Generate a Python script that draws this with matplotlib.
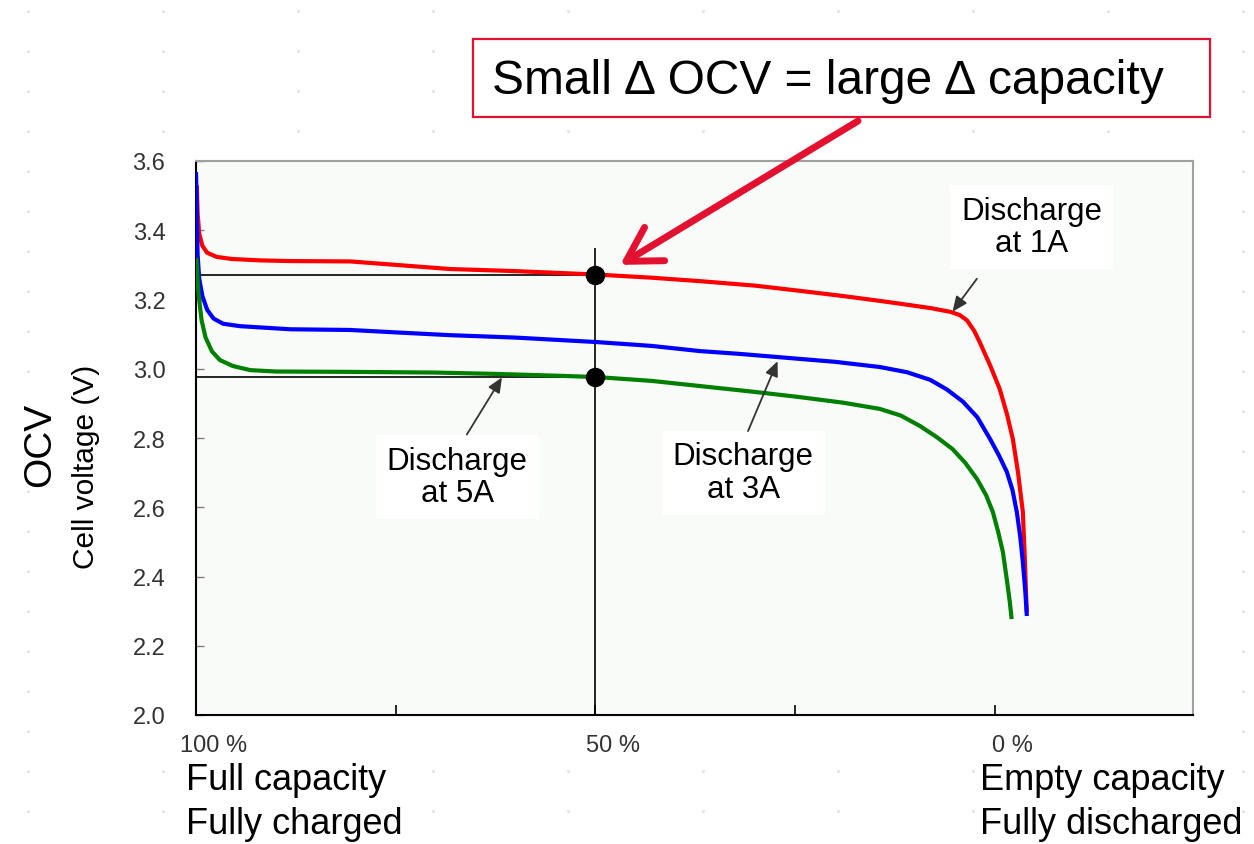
import matplotlib
matplotlib.use("Agg")
import matplotlib.pyplot as plt
from matplotlib.patches import Rectangle
from matplotlib.lines import Line2D
from matplotlib.transforms import ScaledTranslation
import numpy as np

plt.rcParams['font.family'] = ['Liberation Sans', 'DejaVu Sans']

# State of charge (%) and cell voltage (V) for each discharge current
soc_1a = [99.9, 99.8, 99.6, 99.2, 98.6, 97.4, 95.5, 92.0, 88.2, 80.7, 75.0, 68.2,
          60.0, 49.8, 43.0, 36.9, 30.0, 24.4, 19.0, 14.4, 11.9, 8.0, 5.5, 4.4, 3.5,
          2.6, 1.9, 0.6, -0.6, -1.5, -2.25, -2.9, -3.5, -3.75, -3.9, -4.0]
v_1a = [3.530, 3.450, 3.390, 3.355, 3.335, 3.323, 3.317, 3.313, 3.311, 3.310, 3.300,
        3.288, 3.282, 3.272, 3.263, 3.253, 3.240, 3.225, 3.210, 3.196, 3.188, 3.175,
        3.164, 3.155, 3.140, 3.110, 3.077, 3.010, 2.942, 2.870, 2.797, 2.700, 2.586,
        2.450, 2.350, 2.297]

soc_3a = [100.0, 99.9, 99.8, 99.6, 99.2, 98.6, 97.8, 96.6, 94.5, 92.4, 88.2, 80.7,
          75.0, 68.2, 60.0, 49.8, 43.0, 36.9, 32.0, 27.3, 20.0, 14.4, 11.0, 8.1, 6.0,
          4.0, 2.2, 0.6, -0.5, -1.5, -2.2, -2.75, -3.2, -3.5, -3.8, -4.0]
v_3a = [3.568, 3.450, 3.330, 3.260, 3.210, 3.170, 3.145, 3.130, 3.123, 3.120, 3.114,
        3.112, 3.105, 3.097, 3.090, 3.077, 3.066, 3.051, 3.043, 3.034, 3.020, 3.005,
        2.990, 2.968, 2.940, 2.905, 2.860, 2.797, 2.750, 2.702, 2.650, 2.586, 2.510,
        2.442, 2.360, 2.286]

soc_5a = [99.95, 99.7, 99.3, 98.8, 98.0, 97.0, 95.4, 93.2, 90.0, 80.7, 70.0, 62.3,
          55.0, 49.8, 43.0, 36.9, 30.0, 24.4, 19.0, 14.4, 11.8, 9.4, 7.3, 5.3, 3.7,
          2.25, 1.1, 0.25, -0.4, -1.0, -1.5, -1.85, -2.1]
v_5a = [3.320, 3.220, 3.140, 3.090, 3.050, 3.025, 3.008, 2.996, 2.992, 2.991, 2.989,
        2.985, 2.980, 2.976, 2.965, 2.950, 2.933, 2.918, 2.902, 2.884, 2.865, 2.835,
        2.803, 2.768, 2.728, 2.682, 2.635, 2.586, 2.530, 2.471, 2.390, 2.330, 2.277]

# Reference point at half capacity
soc_mid = 50
v_mid_1a = 3.27
v_mid_5a = 2.975

y_ticks = [2.0, 2.2, 2.4, 2.6, 2.8, 3.0, 3.2, 3.4, 3.6]
x_ticks = [100, 75, 50, 25, 0]
x_tick_labels = ["100 %", "", "50 %", "", "0 %"]

W, H = 1254, 845
fig = plt.figure(figsize=(W / 100, H / 100), dpi=100)
fig.patch.set_facecolor('white')


def fpos(px, py):
    return px / W, 1 - py / H


# faint dotted slide background
gx = np.arange(28, W, 135)
gy = np.arange(12, H + 5, 40)
dx, dy = [], []
for x in gx:
    for y in gy:
        if 50 <= x <= 1215 and 138 <= y <= 760:
            continue
        fx, fy = fpos(x, y)
        dx.append(fx)
        dy.append(fy)
fig.add_artist(Line2D(dx, dy, transform=fig.transFigure, ls='none', marker='o',
                      ms=2.2, mfc='#e2e2e2', mec='none', zorder=0))

ax = fig.add_axes([196 / W, 1 - 716 / H, (1193 - 196) / W, (716 - 162) / H])
ax.set_facecolor('#f9fbf9')
ax.set_xlim(100, -24.8)
ax.set_ylim(2.0, 3.6)

# reference lines through the 50 % point
ax.hlines([v_mid_1a, v_mid_5a], 100, soc_mid, color='black', lw=1.2, zorder=2)
ax.vlines(soc_mid, 2.0, 3.35, color='black', lw=1.2, zorder=2)

curve_kw = dict(lw=3, zorder=3, solid_joinstyle='round', solid_capstyle='butt')
ax.plot(soc_1a, v_1a, color='#ff0000', **curve_kw)
ax.plot(soc_3a, v_3a, color='#0000ff', **curve_kw)
ax.plot(soc_5a, v_5a, color='#008000', **curve_kw)

ax.plot([soc_mid, soc_mid], [v_mid_1a, v_mid_5a], ls='none', marker='o', ms=13,
        color='black', zorder=5)

# axes frame
for s in ('left', 'bottom'):
    ax.spines[s].set_color('black')
    ax.spines[s].set_linewidth(1.5)
for s in ('top', 'right'):
    ax.spines[s].set_color('#a0a0a0')
    ax.spines[s].set_linewidth(1.5)

ax.set_yticks(y_ticks)
ax.set_yticklabels([f"{v:.1f}" for v in y_ticks])
ax.set_xticks(x_ticks)
ax.set_xticklabels(x_tick_labels)
ax.tick_params(axis='y', direction='in', length=6, width=1, color='#808080',
               labelsize=17, labelcolor='#333333', pad=22)
ax.tick_params(axis='x', direction='in', length=7, width=1.2, color='black',
               labelsize=17, labelcolor='#333333', pad=14)
for lab in ax.get_xticklabels():
    lab.set_transform(lab.get_transform() + ScaledTranslation(0.18, 0, fig.dpi_scale_trans))

# axis titles
fig.text(*fpos(86, 467), "Cell voltage (V)", rotation=90, ha='center', va='center',
         fontsize=21.5, color='black')
fig.text(*fpos(40, 445), "OCV", rotation=90, ha='center', va='center',
         fontsize=28, color='black')

# capacity captions under the axis
fig.text(*fpos(186, 780), "Full capacity", ha='left', va='center', fontsize=26, color='black')
fig.text(*fpos(186, 825), "Fully charged", ha='left', va='center', fontsize=26, color='black')
fig.text(*fpos(980, 780), "Empty capacity", ha='left', va='center', fontsize=26, color='black')
fig.text(*fpos(980, 825), "Fully discharged", ha='left', va='center', fontsize=26, color='black')

# curve labels with pointer arrows
label_box = dict(boxstyle='square,pad=0.35', fc='white', ec='none')
arrow_kw = dict(arrowstyle='-|>,head_length=0.5,head_width=0.22', color='#333333',
                lw=1.3, shrinkA=0, shrinkB=0, mutation_scale=18)
label_kw = dict(ha='center', va='center', fontsize=22.5, linespacing=1.1,
                bbox=label_box, zorder=6)

ax.text(-4.6, 3.41, "Discharge\nat 1A", **label_kw)
ax.annotate("", xy=(5.3, 3.165), xytext=(2.25, 3.26), arrowprops=arrow_kw, zorder=6)

ax.text(31.5, 2.70, "Discharge\nat 3A", **label_kw)
ax.annotate("", xy=(27.2, 3.022), xytext=(30.9, 2.82), arrowprops=arrow_kw, zorder=6)

ax.text(67.3, 2.687, "Discharge\nat 5A", **label_kw)
ax.annotate("", xy=(61.7, 2.975), xytext=(66.1, 2.81), arrowprops=arrow_kw, zorder=6)

# headline box and its pointer
x0, y0 = fpos(473, 118)
x1, y1 = fpos(1210, 40)
fig.add_artist(Rectangle((x0, y0), x1 - x0, y1 - y0, transform=fig.transFigure,
                         fc='white', ec='#e3102f', lw=1.6, zorder=4))
fig.text(*fpos(492, 82), "Small \u2206 OCV = large \u2206 capacity", ha='left', va='center',
         fontsize=34.5, color='black', zorder=5)

ax.annotate("", xy=(46.9, 3.30), xycoords='data',
            xytext=fpos(858, 122), textcoords='figure fraction',
            arrowprops=dict(arrowstyle='->,head_length=0.6,head_width=0.35', lw=5,
                            color='#e3102f', shrinkA=0, shrinkB=0, mutation_scale=40),
            annotation_clip=False, zorder=7)

fig.savefig("out.png", dpi=100, facecolor=fig.get_facecolor())
